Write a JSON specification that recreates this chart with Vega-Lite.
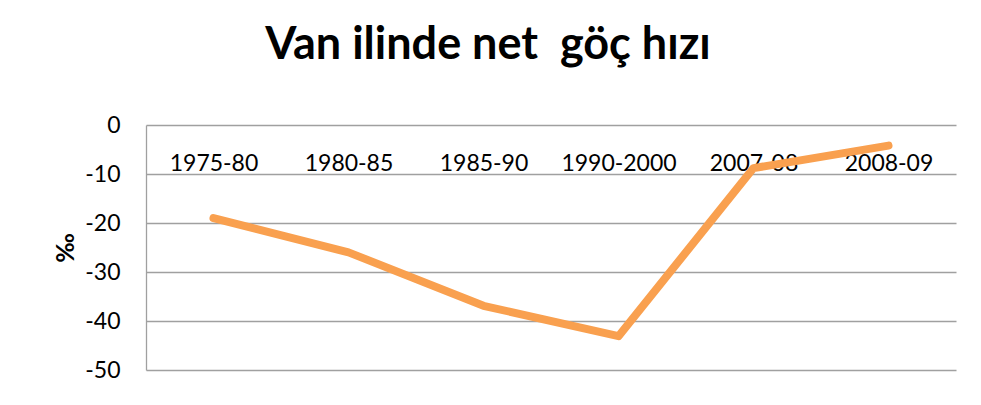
{
  "$schema": "https://vega.github.io/schema/vega-lite/v6.json",
  "autosize": {"type": "none"},
  "width": 810,
  "height": 245,
  "padding": {"left": 146, "top": 125, "right": 25, "bottom": 35},
  "background": "white",
  "config": {
    "view": {"stroke": null},
    "font": "Lato"
  },
  "title": {
    "text": "Van ilinde net\u00a0 göç hızı",
    "font": "Lato",
    "fontSize": 45,
    "fontWeight": "bold",
    "color": "#000000",
    "anchor": "middle",
    "dx": -63,
    "baseline": "alphabetic",
    "offset": 10
  },
  "data": {
    "values": [
      {"period": "1975-80", "rate": -19.0},
      {"period": "1980-85", "rate": -26.0},
      {"period": "1985-90", "rate": -36.9},
      {"period": "1990-2000", "rate": -43.1},
      {"period": "2007-08", "rate": -8.8},
      {"period": "2008-09", "rate": -4.2}
    ]
  },
  "mark": {"type": "line", "color": "#F9A04F", "strokeWidth": 8, "strokeCap": "round", "strokeJoin": "round"},
  "encoding": {
    "x": {
      "field": "period",
      "type": "ordinal",
      "sort": null,
      "scale": {"type": "point", "padding": 0.5},
      "axis": {
        "orient": "top",
        "title": null,
        "domain": false,
        "ticks": false,
        "grid": false,
        "labelAngle": 0,
        "labelFont": "Lato",
        "labelFontSize": 23,
        "labelColor": "#000000",
        "labelBaseline": "alphabetic",
        "labelPadding": -45
      }
    },
    "y": {
      "field": "rate",
      "type": "quantitative",
      "scale": {"domain": [-50, 0], "nice": false, "zero": false},
      "axis": {
        "values": [-50, -40, -30, -20, -10, 0],
        "labelExpr": "'' + datum.value",
        "title": "‰",
        "titleFont": "Lato",
        "titleFontSize": 25,
        "titleFontWeight": "bold",
        "titleColor": "#000000",
        "titlePadding": 6,
        "labelFont": "Lato",
        "labelFontSize": 23,
        "labelColor": "#000000",
        "labelPadding": 26,
        "ticks": false,
        "domain": true,
        "domainColor": "#A0A0A0",
        "domainWidth": 1.3,
        "grid": true,
        "gridColor": "#A0A0A0",
        "gridWidth": 1.3
      }
    }
  }
}
